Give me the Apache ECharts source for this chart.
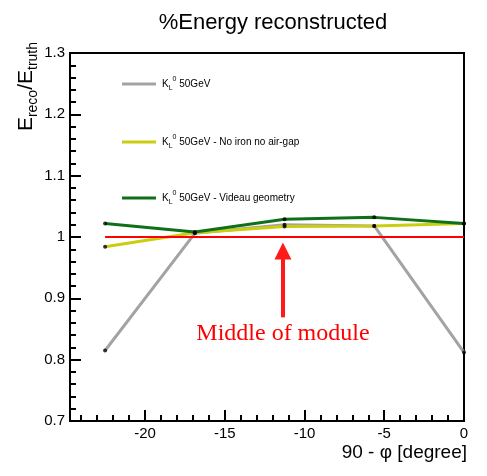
<!DOCTYPE html>
<html>
<head>
<meta charset="utf-8">
<script src="https://cdn.jsdelivr.net/npm/echarts@6/dist/echarts.min.js"></script>
<style>
  html, body { margin: 0; padding: 0; background: #fff; }
  #main { width: 487px; height: 476px; }
</style>
</head>
<body>
<div id="main"></div>
<script>
// angle positions (90 - phi, degrees)
var xVals = [-22.5, -16.875, -11.25, -5.625, 0];
// E_reco / E_truth for each configuration
var grayVals = [0.815, 1.006, 1.020, 1.018, 0.812];
var yellowVals = [0.984, 1.007, 1.017, 1.018, 1.022];
var greenVals = [1.022, 1.008, 1.029, 1.032, 1.022];
var seriesNames = ['K0L 50GeV', 'K0L 50GeV - No iron no air-gap', 'K0L 50GeV - Videau geometry'];
var seriesColors = ['#a3a3a3', '#cccc10', '#10701a'];
var legendTops = [71, 129, 185];
// reference line and annotation
var refLine = [[-22.5, 1], [0, 1]];
var arrowFrom = [-11.35, 0.869];
var arrowTo = [-11.35, 0.977];
var noteAt = [-11.35, 0.842];
var noteText = 'Middle of module';
var xLabelTicks = [-20, -15, -10, -5, 0];
var xMinorTicks = [];
for (var i = -24; i <= 0; i++) xMinorTicks.push(i);

var chartDom = document.getElementById('main');
var myChart = echarts.init(chartDom);

function pairs(ys) {
  var out = [];
  for (var i = 0; i < xVals.length; i++) out.push([xVals[i], ys[i]]);
  return out;
}
var allVals = [grayVals, yellowVals, greenVals];

var legendRich = {
  base: { fontSize: 10, fontFamily: 'Liberation Sans', color: '#000', lineHeight: 16 },
  sub: { fontSize: 7, fontFamily: 'Liberation Sans', color: '#000', verticalAlign: 'bottom', lineHeight: 16 },
  sup: { fontSize: 7, fontFamily: 'Liberation Sans', color: '#000', verticalAlign: 'top', lineHeight: 12 }
};
function legendLabel(name) {
  return '{base|K}{sub|L}{sup|0}{base|' + name.slice(3) + '}';
}

var legends = [];
var series = [];
for (var k = 0; k < 3; k++) {
  legends.push({
    left: 117,
    top: legendTops[k],
    orient: 'vertical',
    icon: 'rect',
    itemWidth: 34,
    itemHeight: 3,
    itemGap: 0,
    data: [{ name: seriesNames[k], itemStyle: { color: seriesColors[k] } }],
    formatter: legendLabel,
    textStyle: { rich: legendRich, padding: [0, 0, 0, 1] }
  });
  series.push({
    name: seriesNames[k],
    type: 'line',
    data: pairs(allVals[k]),
    symbol: 'none',
    color: seriesColors[k],
    lineStyle: { color: seriesColors[k], width: 3 },
    z: 2
  });
}

series.push({
  name: 'ref',
  type: 'line',
  data: refLine,
  symbol: 'none',
  lineStyle: { color: '#ff0000', width: 2 },
  z: 3,
  markLine: {
    silent: true,
    symbol: ['none', 'triangle'],
    symbolSize: 17,
    label: { show: false },
    lineStyle: { color: '#ff1a1a', width: 4, type: 'solid' },
    data: [[{ coord: arrowFrom }, { coord: arrowTo }]]
  },
  markPoint: {
    silent: true,
    symbol: 'circle',
    symbolSize: 0,
    label: {
      show: true,
      position: 'inside',
      formatter: noteText,
      fontFamily: 'Liberation Serif',
      fontSize: 24,
      color: '#ff0000'
    },
    data: [{ coord: noteAt }]
  }
});

// black markers on every point
var markers = [];
for (var k = 0; k < 3; k++) markers = markers.concat(pairs(allVals[k]));
series.push({
  name: 'markers',
  type: 'scatter',
  data: markers,
  symbol: 'circle',
  symbolSize: 4,
  itemStyle: { color: '#000' },
  z: 5
});

var option = {
  animation: false,
  backgroundColor: '#fff',
  title: {
    text: '%Energy reconstructed',
    left: 268,
    top: 7,
    textAlign: 'center',
    textStyle: { fontFamily: 'Liberation Sans', fontSize: 22, fontWeight: 'normal', color: '#000' }
  },
  legend: legends,
  grid: {
    left: 70, right: 23, top: 53, bottom: 55,
    show: true, borderColor: '#000', borderWidth: 2
  },
  xAxis: [{
    type: 'value',
    min: -24.7,
    max: 0,
    name: '90 - φ [degree]',
    nameLocation: 'end',
    nameGap: 3,
    nameTextStyle: {
      fontFamily: 'Liberation Sans', fontSize: 19, color: '#000',
      align: 'right', verticalAlign: 'top', padding: [22, 0, 0, 0]
    },
    splitLine: { show: false },
    axisLine: { show: true, onZero: false, lineStyle: { color: '#000', width: 2 } },
    axisTick: { show: true, inside: true, length: 11, customValues: xLabelTicks, lineStyle: { color: '#000', width: 2 } },
    axisLabel: { customValues: xLabelTicks, fontFamily: 'Liberation Sans', fontSize: 15, color: '#000', margin: 5 }
  }, {
    type: 'value',
    min: -24.7,
    max: 0,
    position: 'bottom',
    splitLine: { show: false },
    axisLine: { show: false },
    axisTick: { show: true, inside: true, length: 6, customValues: xMinorTicks, lineStyle: { color: '#000', width: 2 } },
    axisLabel: { show: false }
  }],
  yAxis: {
    type: 'value',
    min: 0.7,
    max: 1.3,
    interval: 0.1,
    splitLine: { show: false },
    axisLine: { show: true, onZero: false, lineStyle: { color: '#000', width: 2 } },
    axisTick: { show: true, inside: true, length: 11, lineStyle: { color: '#000', width: 2 } },
    minorTick: { show: true, splitNumber: 5, length: 6, lineStyle: { color: '#000', width: 2 } },
    axisLabel: { fontFamily: 'Liberation Sans', fontSize: 15, color: '#000', margin: 5 }
  },
  graphic: [{
    type: 'text',
    x: 28,
    y: 42,
    rotation: Math.PI / 2,
    style: {
      text: '{e|E}{s|reco}{e|/E}{s|truth}',
      align: 'right',
      verticalAlign: 'middle',
      rich: {
        e: { fontFamily: 'Liberation Sans', fontSize: 21, color: '#000', lineHeight: 24, verticalAlign: 'top' },
        s: { fontFamily: 'Liberation Sans', fontSize: 14, color: '#000', lineHeight: 24, verticalAlign: 'bottom' }
      }
    }
  }],
  series: series
};
option && myChart.setOption(option);
</script>
</body>
</html>
